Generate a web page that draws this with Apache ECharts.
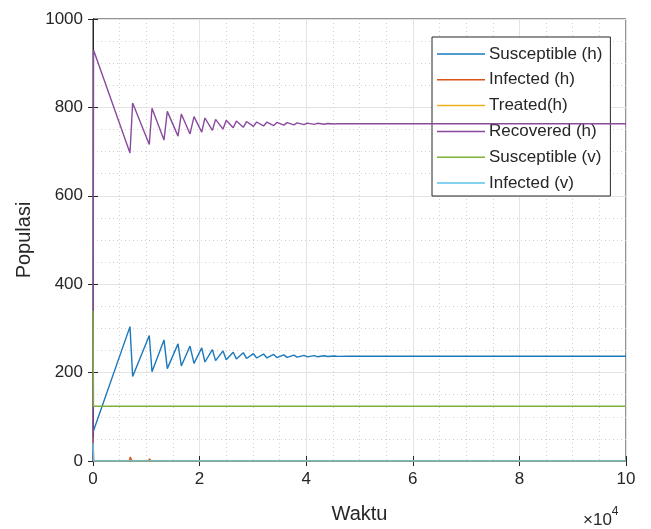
<!DOCTYPE html>
<html>
<head>
<meta charset="utf-8">
<script src="https://cdn.jsdelivr.net/npm/echarts@6/dist/echarts.min.js"></script>
<style>
  html, body { margin: 0; padding: 0; background: #fff; }
  #chart { width: 651px; height: 529px; }
</style>
</head>
<body>
<div id="chart"></div>
<script>
// time in units of 10^4 * x
const seriesNames = ['Susceptible (h)', 'Infected (h)', 'Treated(h)', 'Recovered (h)', 'Susceptible (v)', 'Infected (v)'];
const colors = ['#1a78bb', '#D95319', '#EDB120', '#8a4a9c', '#7fb03c', '#5cc2ec'];

const xTicks = [0, 2, 4, 6, 8, 10];
const yTicks = [0, 200, 400, 600, 800, 1000];

const tSh = [0, 6940, 7440, 10560, 11070, 13320, 13940, 15950, 16570, 18200, 18950, 20400, 21000, 22400, 23000,
  24400, 25000, 26300, 26900, 28200, 28800, 30100, 30700, 32000, 32600, 33900, 34500, 35800, 36400, 37700, 38300,
  39600, 40200, 41500, 42100, 43400, 44000, 45300, 45900, 48000, 100000];
const sh = [65, 304, 191, 284, 202, 274, 209, 265, 215, 260, 221, 256, 224, 252, 227,
  249, 229, 246, 231, 245, 232, 243, 233, 242, 233.5, 241, 234, 240, 234.5, 239.5, 235,
  239, 235.5, 238.5, 236, 238, 236.5, 237.5, 236.8, 237, 237];

const tRh = [0, 100, 6940, 7440, 10560, 11070, 13320, 13940, 15950, 16570, 18200, 18950, 20400, 21000, 22400, 23000,
  24400, 25000, 26300, 26900, 28200, 28800, 30100, 30700, 32000, 32600, 33900, 34500, 35800, 36400, 37700, 38300,
  39600, 40200, 41500, 42100, 43400, 44000, 45300, 45900, 48000, 100000];
const rh = [0, 930, 697, 810, 716, 798, 726, 791, 735, 785, 740, 779, 744, 776, 748, 773,
  751, 771, 754, 769, 755, 768, 757, 767, 758, 766.5, 759, 766, 760, 765.5, 760.5, 765,
  761, 764.5, 761.5, 764, 762, 763.5, 762.5, 763.2, 763, 763];

const tIh = [0, 6800, 7000, 7300, 10400, 10600, 10900, 13200, 13400, 13700, 100000];
const ih = [0, 0, 9, 0, 0, 5, 0, 0, 3, 0, 0];

const tTh = [0, 150, 100000];
const th = [55, 0, 0];

const tSv = [0, 100, 100000];
const sv = [340, 124, 124];

const tIv = [0, 150, 100000];
const iv = [40, 0, 0];

function pairs(t, v) {
  return t.map((x, i) => [x, v[i]]);
}

const lists = [pairs(tSh, sh), pairs(tIh, ih), pairs(tTh, th), pairs(tRh, rh), pairs(tSv, sv), pairs(tIv, iv)];

const font = 'Liberation Sans, Arial, Helvetica, sans-serif';
const ink = '#262626';

const chart = echarts.init(document.getElementById('chart'), null, { renderer: 'canvas' });

function axisBase(showLabel) {
  return {
    type: 'value',
    axisLine: { show: true, lineStyle: { color: ink, width: 1 } },
    axisTick: { show: true, inside: true, length: 5, lineStyle: { color: ink } },
    axisLabel: { show: showLabel, color: ink, fontSize: 17, fontFamily: font },
    splitLine: { show: false },
    minorSplitLine: { show: false }
  };
}

const option = {
  animation: false,
  backgroundColor: '#fff',
  color: colors,
  textStyle: { fontFamily: font },
  grid: { left: 93, right: 25, top: 19, bottom: 67, show: true, borderColor: ink, borderWidth: 1, backgroundColor: '#fff' },
  xAxis: [
    Object.assign(axisBase(true), {
      position: 'bottom', min: 0, max: 100000, interval: 20000,
      name: 'Waktu', nameLocation: 'middle', nameGap: 43,
      nameTextStyle: { color: ink, fontSize: 20, fontFamily: font },
      axisLabel: { show: true, color: ink, fontSize: 17, fontFamily: font, margin: 10,
        formatter: (v) => String(xTicks[Math.round(v / 20000)]) },
      splitLine: { show: true, lineStyle: { color: '#e3e3e3', width: 1 } },
      minorTick: { show: false, splitNumber: 4 },
      minorSplitLine: { show: true, lineStyle: { color: '#d0d0d0', width: 1, type: [1, 3] } }
    }),
    Object.assign(axisBase(false), { position: 'top', min: 0, max: 100000, interval: 20000 })
  ],
  yAxis: [
    Object.assign(axisBase(true), {
      position: 'left', min: 0, max: 1000, interval: 200,
      name: 'Populasi', nameLocation: 'middle', nameGap: 57,
      nameTextStyle: { color: ink, fontSize: 20, fontFamily: font },
      axisLabel: { show: true, color: ink, fontSize: 17, fontFamily: font, margin: 10,
        formatter: (v) => String(yTicks[Math.round(v / 200)]) },
      splitLine: { show: true, lineStyle: { color: '#e3e3e3', width: 1 } },
      minorTick: { show: false, splitNumber: 4 },
      minorSplitLine: { show: true, lineStyle: { color: '#d0d0d0', width: 1, type: [1, 3] } }
    }),
    Object.assign(axisBase(false), { position: 'right', min: 0, max: 1000, interval: 200 })
  ],
  legend: {
    orient: 'vertical',
    left: 432,
    top: 37,
    padding: [8, 8, 4, 5],
    itemGap: 7.8,
    itemWidth: 48,
    itemHeight: 1.5,
    icon: 'rect',
    backgroundColor: '#fff',
    borderColor: ink,
    borderWidth: 1,
    borderRadius: 0,
    textStyle: { color: ink, fontSize: 17, fontFamily: font, lineHeight: 18, padding: [0, 0, 0, -1] },
    data: seriesNames
  },
  graphic: [{
    type: 'text',
    left: 583,
    top: 506,
    style: {
      text: '{a|×10}{b|4}',
      rich: {
        a: { fontSize: 17, fontFamily: font, fill: ink, padding: [8, 0, 0, 0] },
        b: { fontSize: 12, fontFamily: font, fill: ink, padding: [0, 0, 8, 0] }
      }
    }
  }],
  series: seriesNames.map((name, i) => ({
    name: name,
    type: 'line',
    xAxisIndex: 0,
    yAxisIndex: 0,
    data: lists[i],
    symbol: 'none',
    lineStyle: { width: 1.4, color: colors[i] },
    itemStyle: { color: colors[i] },
    z: 2 + i
  }))
};

chart.setOption(option);
</script>
</body>
</html>
